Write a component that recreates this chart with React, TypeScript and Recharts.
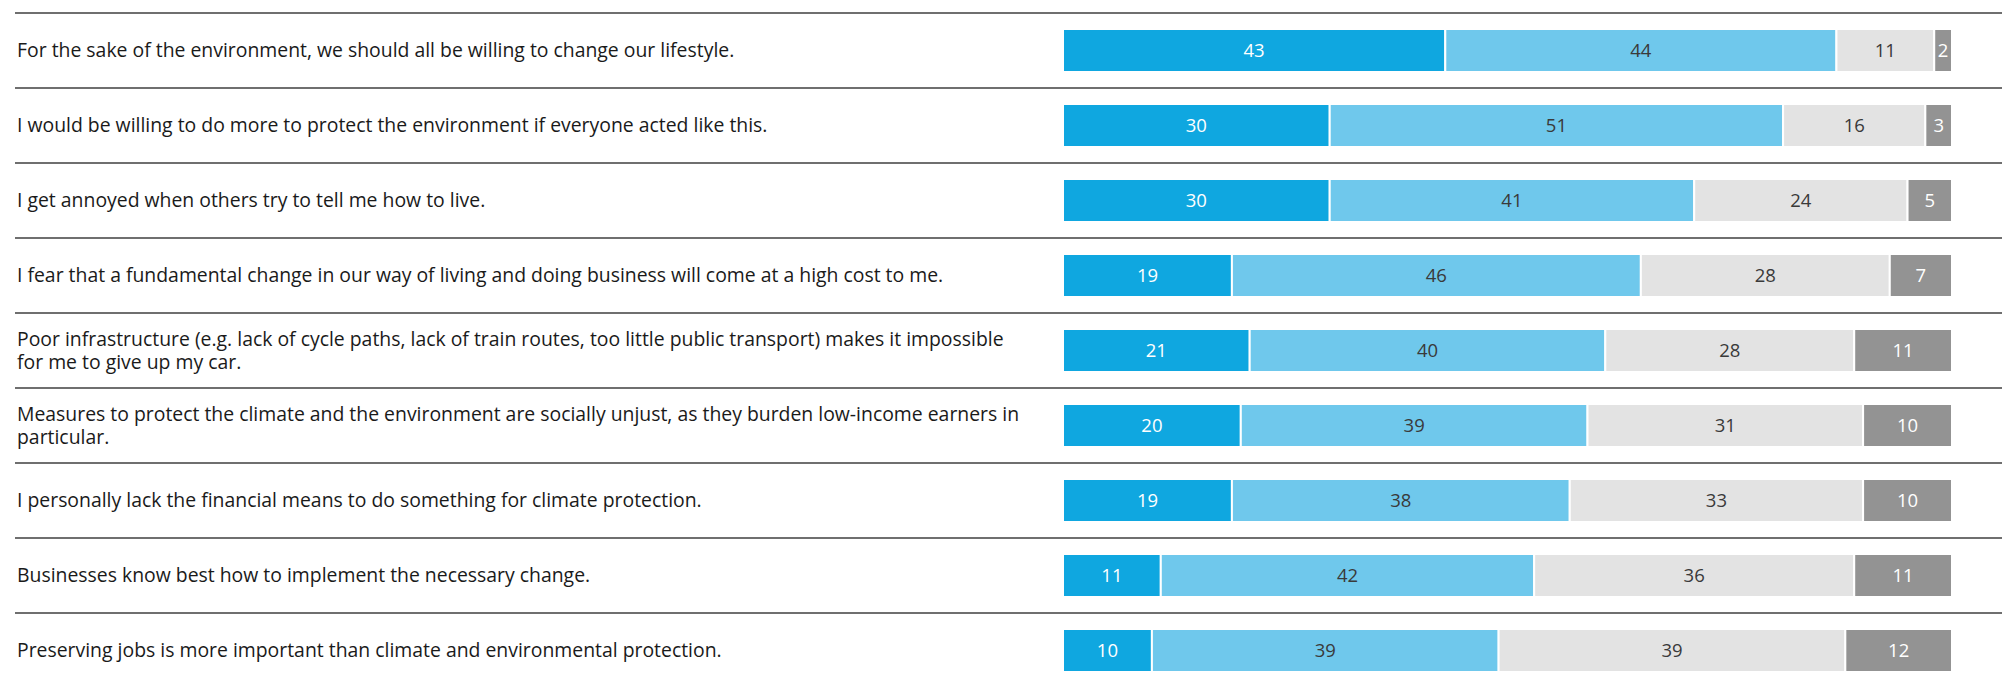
import React from 'react'
import { BarChart, Bar, XAxis, YAxis, LabelList } from 'recharts'

const FONT = '"Open Sans", "Noto Sans", sans-serif'
const FONT_SIZE = 19.4
const LINE_HEIGHT = 23
const LABEL_WIDTH = 1030

// "\n" marks where the original chart breaks the long statements
const statements = [
  'For the sake of the environment, we should all be willing to change our lifestyle.',
  'I would be willing to do more to protect the environment if everyone acted like this.',
  'I get annoyed when others try to tell me how to live.',
  'I fear that a fundamental change in our way of living and doing business will come at a high cost to me.',
  'Poor infrastructure (e.g. lack of cycle paths, lack of train routes, too little public transport) makes it impossible\nfor me to give up my car.',
  'Measures to protect the climate and the environment are socially unjust, as they burden low-income earners in\nparticular.',
  'I personally lack the financial means to do something for climate protection.',
  'Businesses know best how to implement the necessary change.',
  'Preserving jobs is more important than climate and environmental protection.',
]

const agreeFully = [43, 30, 30, 19, 21, 20, 19, 11, 10]
const agreeSomewhat = [44, 51, 41, 46, 40, 39, 38, 42, 39]
const disagreeSomewhat = [11, 16, 24, 28, 28, 31, 33, 36, 39]
const disagreeFully = [2, 3, 5, 7, 11, 10, 10, 11, 12]

const rows = statements.map((label, i) => ({
  label,
  agreeFully: agreeFully[i],
  agreeSomewhat: agreeSomewhat[i],
  disagreeSomewhat: disagreeSomewhat[i],
  disagreeFully: disagreeFully[i],
}))

const series = [
  { key: 'agreeFully', color: '#0fa7e0', text: '#ffffff' },
  { key: 'agreeSomewhat', color: '#6fc8ec', text: '#3a3a3a' },
  { key: 'disagreeSomewhat', color: '#e3e3e3', text: '#3a3a3a' },
  { key: 'disagreeFully', color: '#939393', text: '#ffffff' },
]

let ctx: CanvasRenderingContext2D | null = null

// split a label into lines: explicit breaks first, then by width
function wrap(text: string, maxWidth: number) {
  if (!ctx) ctx = document.createElement('canvas').getContext('2d')
  const lines: string[] = []
  for (const part of text.split('\n')) {
    if (!ctx) {
      lines.push(part)
      continue
    }
    ctx.font = `${FONT_SIZE}px ${FONT}`
    let current = ''
    for (const word of part.split(' ')) {
      const next = current ? current + ' ' + word : word
      if (current && ctx.measureText(next).width > maxWidth) {
        lines.push(current)
        current = word
      } else {
        current = next
      }
    }
    if (current) lines.push(current)
  }
  return lines
}

function StatementTick(props: any) {
  const { y, payload } = props
  const lines = wrap(payload.value, LABEL_WIDTH)
  const first = y + FONT_SIZE * 0.35 - ((lines.length - 1) / 2) * LINE_HEIGHT
  return (
    <g>
      <line x1={15} x2={2002} y1={y - 37.5} y2={y - 37.5} stroke="#6f6f6f" strokeWidth={2} />
      <text x={17} y={first} fill="#1a1a1a" fontSize={FONT_SIZE} fontFamily={FONT} textAnchor="start">
        {lines.map((line, i) => (
          <tspan key={i} x={17} y={first + i * LINE_HEIGHT}>
            {line}
          </tspan>
        ))}
      </text>
    </g>
  )
}

export default function App() {
  return (
    <div
      style={{
        position: 'absolute',
        left: 0,
        top: 0,
        width: 2002,
        height: 683,
        overflow: 'hidden',
        background: '#fff',
      }}
    >
      <BarChart
        layout="vertical"
        width={2002}
        height={688}
        data={rows}
        margin={{ top: 13, right: 50, bottom: 0, left: 0 }}
      >
        <XAxis type="number" domain={[0, 100]} hide />
        <YAxis
          type="category"
          dataKey="label"
          width={1063}
          interval={0}
          tickLine={false}
          axisLine={false}
          tick={<StatementTick />}
        />
        {series.map((s) => (
          <Bar
            key={s.key}
            dataKey={s.key}
            stackId="a"
            fill={s.color}
            stroke="#ffffff"
            strokeWidth={2}
            barSize={43}
            isAnimationActive={false}
          >
            <LabelList
              dataKey={s.key}
              position="center"
              fill={s.text}
              fontSize={18.5}
              fontFamily={FONT}
            />
          </Bar>
        ))}
      </BarChart>
    </div>
  )
}
